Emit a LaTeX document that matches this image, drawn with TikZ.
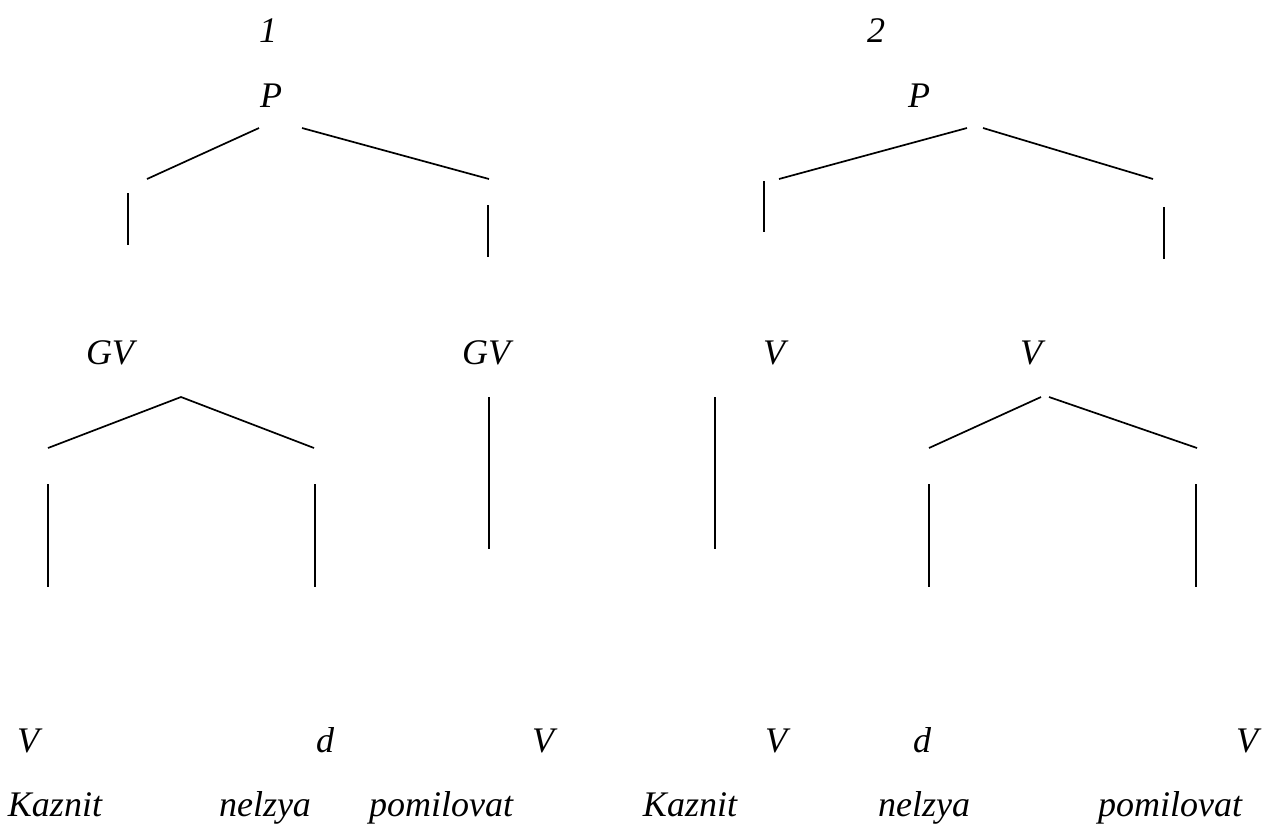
\documentclass[tikz,border=0pt]{standalone}
\usepackage{fontspec}
\setmainfont{Liberation Serif}
\begin{document}
\begin{tikzpicture}[x=1pt,y=-1pt,
  lbl/.style={anchor=base,inner sep=0pt,font=\fontsize{36}{40}\selectfont\itshape},
  seg/.style={line width=1.7pt,line cap=butt}]
\useasboundingbox (0,0) rectangle (1264,823);
% top labels
\node[lbl] (n1) at (268,42) {1};
\node[lbl] (n2) at (876,42) {2};
\node[lbl] (p1) at (271,107) {P};
\node[lbl] (p2) at (919,107) {P};
% tree 1 top
\draw[seg] (259,128) -- (147,179);
\draw[seg] (302,128) -- (489,179);
\draw[seg] (128,193) -- (128,245);
\draw[seg] (488,205) -- (488,257);
% tree 2 top
\draw[seg] (967,128) -- (779,179);
\draw[seg] (983,128) -- (1153,179);
\draw[seg] (764,181) -- (764,232);
\draw[seg] (1164,207) -- (1164,259);
% middle labels
\node[lbl] (gv1) at (110,364) {GV};
\node[lbl] (gv2) at (486,364) {GV};
\node[lbl] (v1) at (774,364) {V};
\node[lbl] (v2) at (1031,364) {V};
% tree 1 middle
\draw[seg] (48,448) -- (181,397) -- (314,448);
\draw[seg] (48,484) -- (48,587);
\draw[seg] (315,484) -- (315,587);
\draw[seg] (489,397) -- (489,549);
% tree 2 middle
\draw[seg] (715,397) -- (715,549);
\draw[seg] (1041,397) -- (929,448);
\draw[seg] (1049,397) -- (1197,448);
\draw[seg] (929,484) -- (929,587);
\draw[seg] (1196,484) -- (1196,587);
% bottom category labels
\node[lbl] (b1) at (28,752) {V};
\node[lbl] (b2) at (325,752) {d};
\node[lbl] (b3) at (543,752) {V};
\node[lbl] (b4) at (776,752) {V};
\node[lbl] (b5) at (922,752) {d};
\node[lbl] (b6) at (1247,752) {V};
% words
\node[lbl] (w1) at (55,816) {Kaznit};
\node[lbl] (w2) at (265,816) {nelzya};
\node[lbl] (w3) at (441,816) {pomilovat};
\node[lbl] (w4) at (690,816) {Kaznit};
\node[lbl] (w5) at (924,816) {nelzya};
\node[lbl] (w6) at (1170,816) {pomilovat};
\end{tikzpicture}
\end{document}
